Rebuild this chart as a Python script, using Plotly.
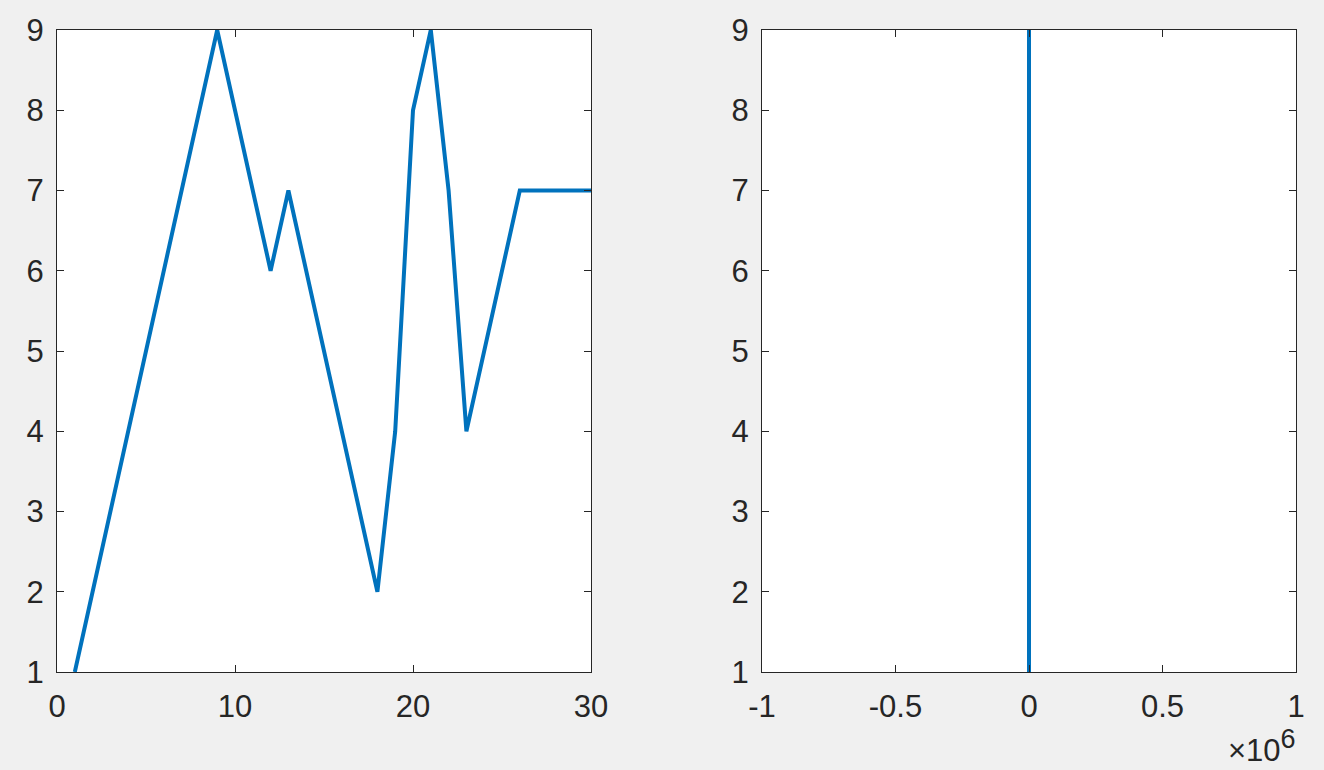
import plotly.graph_objects as go

x_left = list(range(1, 31))
y_left = [1, 2, 3, 4, 5, 6, 7, 8, 9, 8, 7, 6, 7, 6, 5, 4, 3, 2, 4, 8, 9, 7, 4, 5, 6, 7, 7, 7, 7, 7]

x_right = [0, 0, 0, 0, 0, 0, 0, 0, 0]
y_right = [1, 2, 3, 4, 5, 6, 7, 8, 9]

left_xticks = [0, 10, 20, 30]
right_xticks = [-1e6, -0.5e6, 0, 0.5e6, 1e6]
right_xticklabels = ["-1", "-0.5", "0", "0.5", "1"]
yticks = [1, 2, 3, 4, 5, 6, 7, 8, 9]

W, H = 1324, 770
fig = go.Figure()
line_color = "#0072BD"
fig.add_trace(go.Scatter(x=x_left, y=y_left, mode="lines",
                         line=dict(color=line_color, width=4), xaxis="x", yaxis="y"))
fig.add_trace(go.Scatter(x=x_right, y=y_right, mode="lines",
                         line=dict(color=line_color, width=4), xaxis="x2", yaxis="y2"))

axcol = "#262626"
font = dict(family="Liberation Sans, Arial, sans-serif", size=31, color=axcol)
common = dict(showgrid=False, zeroline=False, showline=True, linecolor=axcol, linewidth=1,
              mirror="ticks", ticks="inside", ticklen=7, tickcolor=axcol, tickwidth=1,
              tickfont=font, automargin=False)

def dx(px):
    return px / W

def dy(px):
    return 1 - px / H

fig.update_layout(
    width=W, height=H,
    paper_bgcolor="#f0f0f0", plot_bgcolor="white",
    showlegend=False,
    margin=dict(l=0, r=0, t=0, b=0, autoexpand=False),
    xaxis=dict(domain=[dx(57), dx(591)], range=[0, 30], tickvals=left_xticks, anchor="y",
               ticklabelstandoff=7, **common),
    yaxis=dict(domain=[dy(672), dy(30)], range=[1, 9], tickvals=yticks, anchor="x",
               ticklabelstandoff=6, **common),
    xaxis2=dict(domain=[dx(762), dx(1296)], range=[-1e6, 1e6], tickvals=right_xticks,
                ticktext=right_xticklabels, anchor="y2", ticklabelstandoff=7, **common),
    yaxis2=dict(domain=[dy(672), dy(30)], range=[1, 9], tickvals=yticks, anchor="x2",
                ticklabelstandoff=6, **common),
    annotations=[dict(text="×10<sup><span style='font-size:27px'>6</span></sup>",
                      xref="paper", yref="paper",
                      x=dx(1298), y=dy(770), xanchor="right", yanchor="bottom",
                      showarrow=False, font=dict(family=font["family"], size=31, color=axcol))],
)

fig.write_html("out.html", config={"displayModeBar": False},
               post_script="document.body.style.margin='0';document.body.style.overflow='hidden';")
